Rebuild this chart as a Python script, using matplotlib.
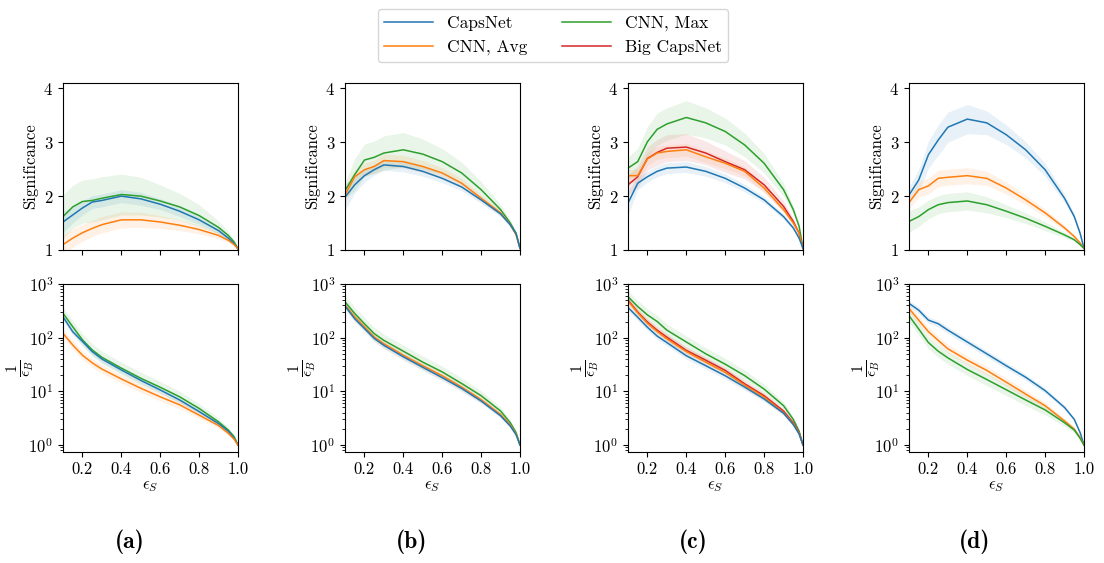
import matplotlib
matplotlib.use("Agg")
import matplotlib.pyplot as plt
import numpy as np
from matplotlib.lines import Line2D

plt.rcParams["font.family"] = "serif"
plt.rcParams["font.serif"] = ["cmr10"]
plt.rcParams["mathtext.fontset"] = "cm"
plt.rcParams["axes.formatter.use_mathtext"] = True
plt.rcParams["axes.unicode_minus"] = False
plt.rcParams["font.size"] = 11

# signal efficiency grid shared by every curve
eps_s = [0.1, 0.15, 0.2, 0.25, 0.3, 0.4, 0.5, 0.6, 0.7, 0.8, 0.9, 0.95, 0.98, 1.0]

# ---- (a) ----
a_sig_caps = [1.52, 1.65, 1.78, 1.89, 1.92, 2.00, 1.95, 1.85, 1.72, 1.56, 1.36, 1.22, 1.12, 1.02]
a_sig_avg = [1.10, 1.22, 1.32, 1.40, 1.47, 1.56, 1.56, 1.52, 1.46, 1.38, 1.27, 1.18, 1.10, 1.02]
a_sig_max = [1.62, 1.80, 1.90, 1.92, 1.96, 2.03, 2.00, 1.91, 1.80, 1.64, 1.42, 1.27, 1.15, 1.02]
a_sig_caps_err = [0.20, 0.15, 0.13, 0.12, 0.12, 0.12, 0.12, 0.10, 0.10, 0.08, 0.06, 0.04, 0.02, 0.0]
a_sig_avg_err = [0.18, 0.17, 0.16, 0.15, 0.15, 0.15, 0.14, 0.12, 0.10, 0.08, 0.06, 0.04, 0.02, 0.0]
a_sig_max_err = [0.40, 0.40, 0.40, 0.40, 0.40, 0.38, 0.35, 0.30, 0.25, 0.20, 0.12, 0.07, 0.04, 0.0]
a_inv_caps = [245, 129, 85, 55, 40, 25, 16, 10.6, 6.9, 4.2, 2.5, 1.8, 1.33, 1.0]
a_inv_avg = [120, 73, 47, 34, 26, 17, 11.4, 7.9, 5.6, 3.6, 2.3, 1.65, 1.28, 1.0]
a_inv_max = [285, 160, 91, 59, 43, 27, 17.5, 11.9, 7.9, 4.8, 2.7, 1.9, 1.43, 1.0]

# ---- (b) ----
b_sig_caps = [1.98, 2.21, 2.38, 2.49, 2.58, 2.55, 2.46, 2.33, 2.17, 1.93, 1.67, 1.47, 1.30, 1.03]
b_sig_avg = [2.02, 2.36, 2.49, 2.55, 2.66, 2.64, 2.55, 2.43, 2.24, 1.96, 1.69, 1.47, 1.28, 1.03]
b_sig_max = [2.10, 2.40, 2.67, 2.72, 2.80, 2.86, 2.78, 2.64, 2.43, 2.12, 1.75, 1.50, 1.31, 1.03]
b_sig_caps_err = [0.25, 0.15, 0.12, 0.10, 0.10, 0.10, 0.09, 0.08, 0.07, 0.06, 0.05, 0.04, 0.02, 0.0]
b_sig_avg_err = [0.15, 0.13, 0.12, 0.12, 0.12, 0.12, 0.11, 0.10, 0.09, 0.07, 0.05, 0.04, 0.02, 0.0]
b_sig_max_err = [0.15, 0.30, 0.30, 0.30, 0.32, 0.32, 0.28, 0.24, 0.20, 0.15, 0.10, 0.06, 0.03, 0.0]
b_inv_caps = [390, 225, 148, 97, 72, 44, 28, 18, 11.3, 6.6, 3.5, 2.25, 1.55, 1.0]
b_inv_avg = [405, 245, 160, 103, 77, 47, 30, 19.5, 12, 7.0, 3.7, 2.35, 1.6, 1.0]
b_inv_max = [465, 282, 182, 119, 89, 56, 35, 23, 14, 8.3, 4.3, 2.6, 1.7, 1.0]

# ---- (c) ----
c_sig_caps = [1.87, 2.24, 2.36, 2.46, 2.52, 2.54, 2.46, 2.33, 2.15, 1.93, 1.62, 1.41, 1.22, 1.03]
c_sig_avg = [2.38, 2.38, 2.69, 2.80, 2.83, 2.86, 2.73, 2.61, 2.46, 2.15, 1.75, 1.50, 1.31, 1.03]
c_sig_max = [2.52, 2.64, 3.01, 3.24, 3.34, 3.46, 3.36, 3.20, 2.95, 2.61, 2.12, 1.75, 1.44, 1.03]
c_sig_big = [2.21, 2.36, 2.70, 2.81, 2.89, 2.91, 2.80, 2.64, 2.49, 2.21, 1.81, 1.53, 1.31, 1.03]
c_sig_caps_err = [0.22, 0.12, 0.10, 0.10, 0.10, 0.10, 0.09, 0.08, 0.07, 0.06, 0.05, 0.04, 0.02, 0.0]
c_sig_avg_err = [0.12, 0.12, 0.12, 0.12, 0.12, 0.12, 0.11, 0.10, 0.09, 0.07, 0.05, 0.04, 0.02, 0.0]
c_sig_max_err = [0.20, 0.25, 0.28, 0.30, 0.30, 0.31, 0.28, 0.25, 0.22, 0.18, 0.12, 0.08, 0.04, 0.0]
c_sig_big_err = [0.18, 0.20, 0.22, 0.24, 0.25, 0.25, 0.22, 0.20, 0.17, 0.14, 0.10, 0.06, 0.03, 0.0]
c_inv_caps = [365, 240, 156, 107, 81, 46, 30, 19.5, 12, 7.2, 3.9, 2.4, 1.6, 1.0]
c_inv_avg = [480, 290, 185, 130, 95, 55, 35, 22.5, 13, 7.8, 4.0, 2.5, 1.65, 1.0]
c_inv_max = [580, 380, 265, 200, 138, 83, 50, 32, 19.6, 11, 5.4, 3.0, 1.8, 1.0]
c_inv_big = [500, 300, 195, 138, 102, 58, 38, 24.5, 13.8, 8.3, 4.3, 2.6, 1.7, 1.0]

# ---- (d) ----
d_sig_caps = [2.02, 2.30, 2.77, 3.04, 3.28, 3.43, 3.36, 3.14, 2.86, 2.49, 1.96, 1.62, 1.31, 1.03]
d_sig_avg = [1.88, 2.12, 2.19, 2.33, 2.35, 2.38, 2.33, 2.15, 1.93, 1.69, 1.41, 1.25, 1.13, 1.03]
d_sig_max = [1.53, 1.62, 1.75, 1.84, 1.88, 1.91, 1.84, 1.72, 1.59, 1.44, 1.28, 1.19, 1.10, 1.03]
d_sig_caps_err = [0.15, 0.20, 0.25, 0.28, 0.28, 0.27, 0.22, 0.18, 0.15, 0.12, 0.08, 0.05, 0.03, 0.0]
d_sig_avg_err = [0.12, 0.14, 0.15, 0.15, 0.15, 0.15, 0.13, 0.11, 0.09, 0.07, 0.05, 0.03, 0.02, 0.0]
d_sig_max_err = [0.20, 0.18, 0.17, 0.17, 0.17, 0.17, 0.15, 0.12, 0.10, 0.08, 0.05, 0.03, 0.02, 0.0]
d_inv_caps = [435, 325, 212, 182, 138, 83, 50, 30, 18.3, 10.3, 5.0, 3.0, 1.7, 1.0]
d_inv_avg = [350, 212, 129, 89, 62, 38, 24.5, 14.8, 8.9, 5.4, 2.8, 1.97, 1.37, 1.0]
d_inv_max = [257, 145, 81, 56, 42, 25.5, 16.6, 10.7, 6.9, 4.5, 2.6, 1.9, 1.33, 1.0]

# spread of 1/eps_B across trainings (factor), and how it narrows towards eps_S = 1
inv_spread = {"caps": 1.15, "avg": 1.2, "max": 1.3, "big": 1.15}
inv_spread_shape = [1, 1, 1, 1, 1, 1, 1, 0.95, 0.9, 0.8, 0.6, 0.4, 0.2, 0]

labels = {"caps": "CapsNet", "avg": "CNN, Avg", "max": "CNN, Max", "big": "Big CapsNet"}
colors = {"caps": "#1f77b4", "avg": "#ff7f0e", "max": "#2ca02c", "big": "#d62728"}

panels = [
    ("(a)", {"max": (a_sig_max, a_sig_max_err, a_inv_max),
             "caps": (a_sig_caps, a_sig_caps_err, a_inv_caps),
             "avg": (a_sig_avg, a_sig_avg_err, a_inv_avg)}),
    ("(b)", {"max": (b_sig_max, b_sig_max_err, b_inv_max),
             "avg": (b_sig_avg, b_sig_avg_err, b_inv_avg),
             "caps": (b_sig_caps, b_sig_caps_err, b_inv_caps)}),
    ("(c)", {"max": (c_sig_max, c_sig_max_err, c_inv_max),
             "big": (c_sig_big, c_sig_big_err, c_inv_big),
             "avg": (c_sig_avg, c_sig_avg_err, c_inv_avg),
             "caps": (c_sig_caps, c_sig_caps_err, c_inv_caps)}),
    ("(d)", {"caps": (d_sig_caps, d_sig_caps_err, d_inv_caps),
             "avg": (d_sig_avg, d_sig_avg_err, d_inv_avg),
             "max": (d_sig_max, d_sig_max_err, d_inv_max)}),
]

W, H = 1104, 563
fig = plt.figure(figsize=(W / 100, H / 100), dpi=100)

lefts = [63, 345, 628, 909]
label_x = [130, 412, 693, 975]
x = np.array(eps_s)
shape = np.array(inv_spread_shape)

for i, (tag, series) in enumerate(panels):
    ax_top = fig.add_axes([lefts[i] / W, 313 / H, 175 / W, 167 / H])
    ax_bot = fig.add_axes([lefts[i] / W, 111 / H, 175 / W, 168 / H])

    for key, (sig, sig_err, inv) in series.items():
        c = colors[key]
        sig = np.array(sig)
        err = np.array(sig_err)
        inv = np.array(inv)
        ax_top.fill_between(x, sig - err, sig + err, color=c, alpha=0.1, lw=0)
        ax_top.plot(x, sig, color=c, lw=1.1)
        f = inv_spread[key] ** shape
        ax_bot.fill_between(x, inv / f, inv * f, color=c, alpha=0.1, lw=0)
        ax_bot.plot(x, inv, color=c, lw=1.1)

    ax_top.set_xlim(0.1, 1.0)
    ax_top.set_ylim(1, 4.1)
    ax_top.set_yticks([1, 2, 3, 4])
    ax_top.set_xticks([0.2, 0.4, 0.6, 0.8, 1.0])
    ax_top.tick_params(labelbottom=False)
    ax_top.set_ylabel("Significance", fontsize=12)

    ax_bot.set_xlim(0.1, 1.0)
    ax_bot.set_yscale("log")
    ax_bot.set_ylim(0.74, 1000)
    ax_bot.set_xticks([0.2, 0.4, 0.6, 0.8, 1.0])
    ax_bot.set_xticklabels(["0.2", "0.4", "0.6", "0.8", "1.0"])
    ax_bot.set_ylabel(r"$\frac{1}{\epsilon_B}$", fontsize=16)
    ax_bot.yaxis.set_label_coords(-0.15, 0.5)
    ax_bot.set_xlabel(r"$\epsilon_S$", fontsize=12, labelpad=1)

    for ax in (ax_top, ax_bot):
        ax.tick_params(labelsize=12)

    fig.text(label_x[i] / W, 1 - 542 / H, tag, family="cmb10",
             ha="center", va="center", fontsize=17)

handles = [Line2D([], [], color=colors[k], lw=1.1) for k in ("caps", "avg", "max", "big")]
names = [labels[k] for k in ("caps", "avg", "max", "big")]
fig.legend(handles, names, loc="upper center", bbox_to_anchor=(553 / W, 1.0),
           ncol=2, fontsize=12.5, handlelength=2.8, columnspacing=2.0, frameon=True)

fig.savefig("out.png", dpi=100)
